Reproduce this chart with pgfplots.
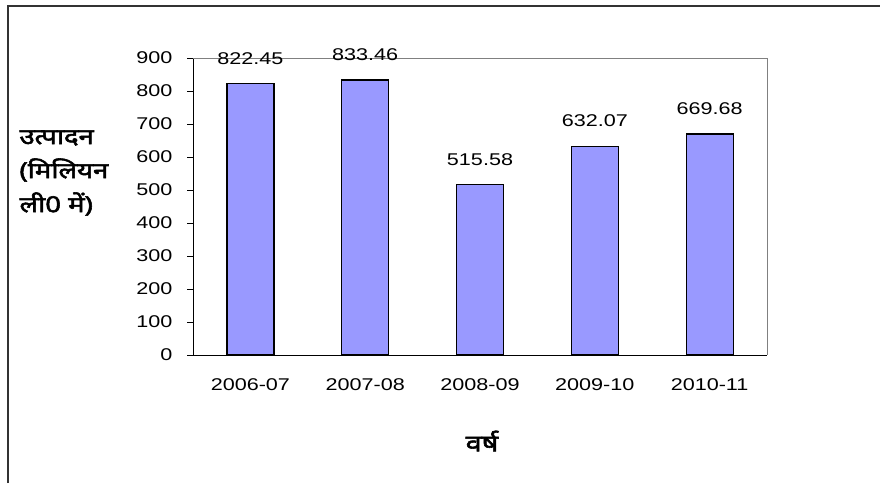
\documentclass[border=0pt]{standalone}
\usepackage{fontspec}
\setmainfont{Liberation Sans}[FakeStretch=1.27]
\newfontfamily\devfont[Script=Devanagari, FakeBold=2.5, FakeStretch=1.25]{Noto Sans}
\usepackage{pgfplots}
\pgfplotsset{compat=1.18}
\definecolor{barfill}{HTML}{9999FF}
\begin{document}
\begin{tikzpicture}
\useasboundingbox (0,0) rectangle (880pt,483pt);
\draw[line width=1.3pt, black!80] (8pt,0pt) -- (8pt,477pt) -- (880pt,477pt);
\begin{axis}[
  at={(193pt,128pt)}, anchor=south west,
  scale only axis, width=574pt, height=297pt,
  xmin=-0.5, xmax=4.5, ymin=0, ymax=900,
  axis x line*=bottom, axis y line*=left,
  axis line style={black, line width=0.8pt},
  /pgf/number format/assume math mode=true,
  ytick={0,100,...,900},
  xtick={0,1,2,3,4},
  xticklabels={2006-07,2007-08,2008-09,2009-10,2010-11},
  x tick style={draw=none},
  extra x ticks={-0.5,0.5,1.5,2.5,3.5,4.5},
  extra x tick labels={},
  extra x tick style={tick style={draw=black, line width=0.8pt}, major tick length=6pt},
  tick align=outside,
  major tick length=6pt,
  y tick style={black, line width=0.8pt},
  tick label style={font=\fontsize{17}{19}\selectfont},
  yticklabel style={xshift=-11pt},
  xticklabel style={yshift=-14pt},
  nodes near coords,
  nodes near coords style={font=\fontsize{17}{19}\selectfont, yshift=15.5pt},
  point meta=explicit symbolic,
  clip=false,
]
\draw[gray, line width=0.8pt] (rel axis cs:0,1) -- (rel axis cs:1,1) -- (rel axis cs:1,0);
\addplot[ybar, bar width=47pt, fill=barfill, draw=black, line width=1.2pt]
  coordinates {(0,822.45) [822.45] (1,833.46) [833.46] (2,515.58) [515.58] (3,632.07) [632.07] (4,669.68) [669.68]};
\end{axis}
\node[anchor=west, align=left, font=\devfont\fontsize{22}{34}\selectfont] at (16pt,310pt) {उत्पादन\\(मिलियन\\ली0 में)};
\node[font=\devfont\fontsize{23}{26}\selectfont] at (482pt,42pt) {वर्ष};
\end{tikzpicture}
\end{document}
